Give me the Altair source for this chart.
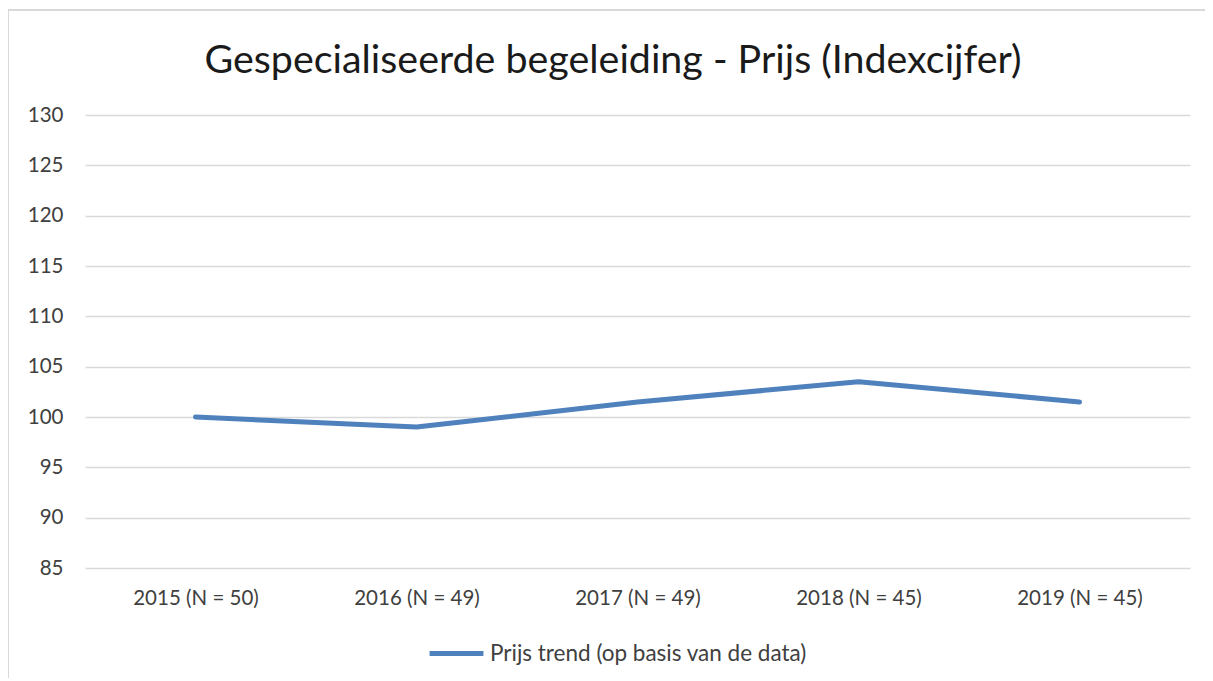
import altair as alt
import pandas as pd

categories = ["2015 (N = 50)", "2016 (N = 49)", "2017 (N = 49)", "2018 (N = 45)", "2019 (N = 45)"]
values = [100.0, 99.0, 101.5, 103.5, 101.5]
series_name = "Prijs trend (op basis van de data)"
y_ticks = [85, 90, 95, 100, 105, 110, 115, 120, 125, 130]
title_text = "Gespecialiseerde begeleiding - Prijs (Indexcijfer)"

df = pd.DataFrame({"cat": categories, "val": values, "series": [series_name] * len(categories)})
title_df = pd.DataFrame({"t": [title_text]})

FONT = "Lato"
W, H = 1105, 453
LBL = 20.5

line = alt.Chart(df).mark_line(strokeWidth=5, strokeCap="round", strokeJoin="round").encode(
    x=alt.X("cat:N", sort=categories, title=None,
            scale=alt.Scale(type="point", padding=0.5),
            axis=alt.Axis(labelAngle=0, labelFontSize=LBL, labelColor="#404040", labelFont=FONT,
                          domain=False, ticks=False, grid=False, labelPadding=20)),
    y=alt.Y("val:Q", title=None,
            scale=alt.Scale(domain=[85, 130], nice=False, zero=False),
            axis=alt.Axis(values=y_ticks, labelFontSize=LBL, labelColor="#404040", labelFont=FONT,
                          domain=False, ticks=False, grid=True, gridColor="#D9D9D9", gridWidth=1.5,
                          labelPadding=22)),
    color=alt.Color("series:N", scale=alt.Scale(domain=[series_name], range=["#4F81BD"]),
                    legend=alt.Legend(title=None, orient="none", legendX=342, legendY=509,
                                      symbolType="stroke", symbolSize=2900, symbolStrokeWidth=5,
                                      labelFontSize=22.5, labelColor="#404040", labelFont=FONT,
                                      labelOffset=4, labelLimit=600)),
)

title = alt.Chart(title_df).mark_text(font=FONT, fontSize=39.4, color="#1a1a1a", align="center",
                                      baseline="alphabetic").encode(
    text="t:N", x=alt.value(528), y=alt.value(-42))

border_v = alt.Chart(df).mark_rule(color="#D9D9D9", strokeWidth=1.5).encode(
    x=alt.value(-77), y=alt.value(-105), y2=alt.value(600))
border_h = alt.Chart(df).mark_rule(color="#D9D9D9", strokeWidth=1.5).encode(
    x=alt.value(-77), x2=alt.value(1140), y=alt.value(-105))

chart = alt.layer(border_v, border_h, title, line).properties(
    width=W, height=H,
    padding={"left": 77, "top": 107, "right": 15, "bottom": 110},
    autosize=alt.AutoSizeParams(type="none"),
).configure_view(stroke=None)

chart.save("out.html", embed_options={"renderer": "svg", "actions": False})
